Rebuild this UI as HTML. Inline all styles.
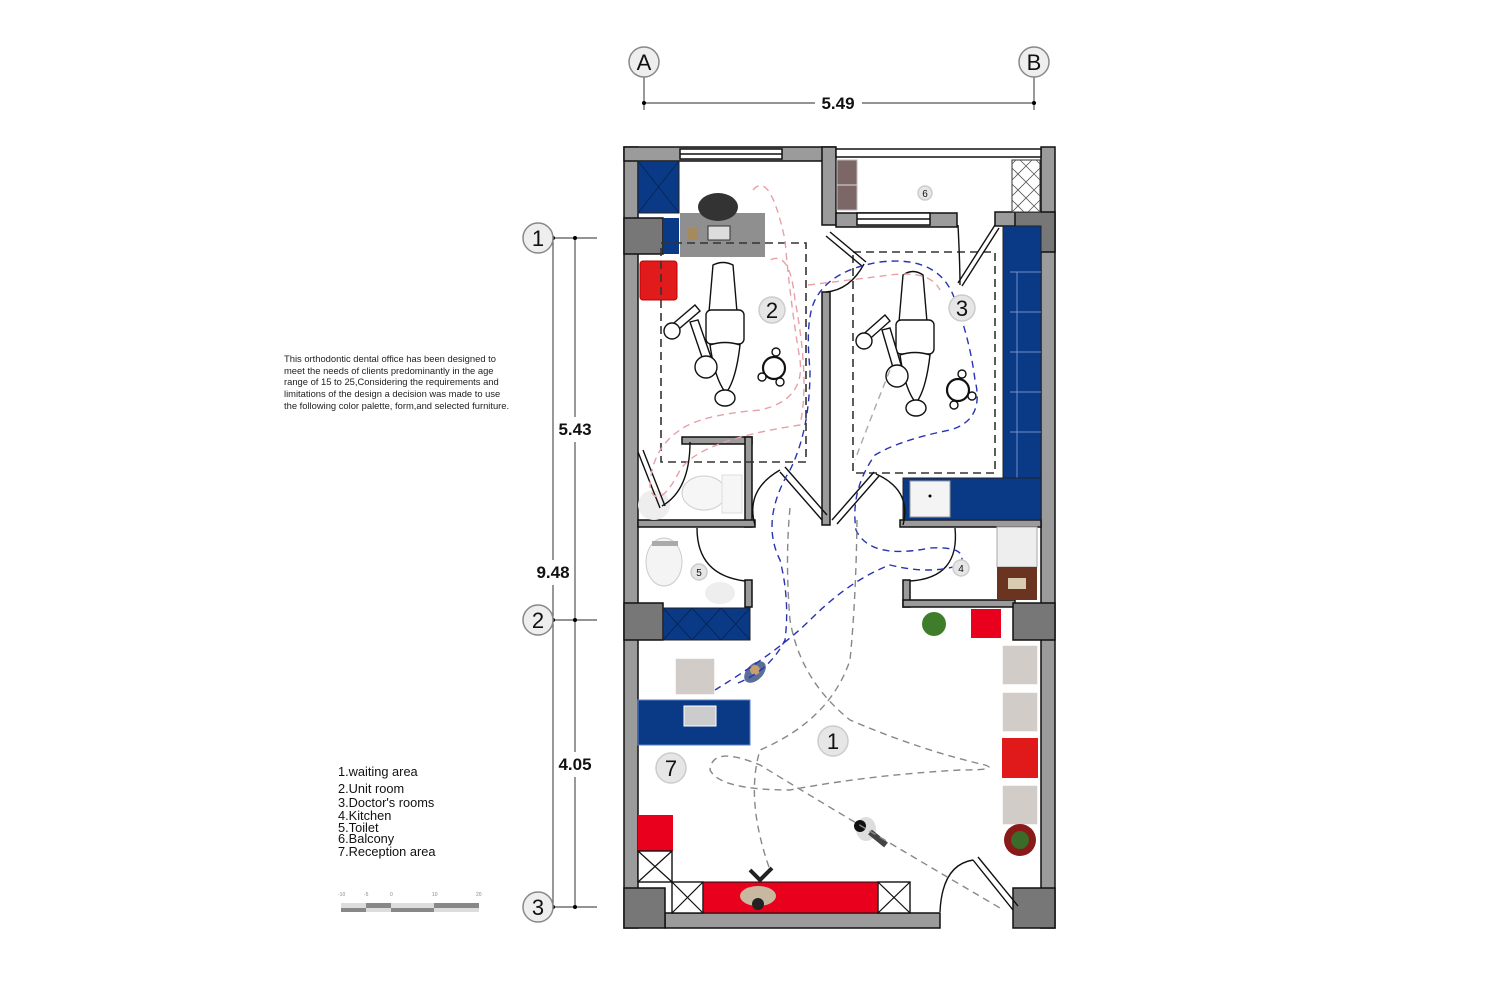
<!DOCTYPE html>
<html><head><meta charset="utf-8"><style>
html,body{margin:0;padding:0;background:#fff;}
svg{display:block;font-family:"Liberation Sans",Arial,sans-serif;}
</style></head><body>
<svg width="1500" height="1000" viewBox="0 0 1500 1000" xmlns="http://www.w3.org/2000/svg">
<rect width="1500" height="1000" fill="#fff"/>
<g stroke="#555" stroke-width="1.2" fill="none">
<line x1="644" y1="77" x2="644" y2="110"/><line x1="1034" y1="77" x2="1034" y2="110"/>
<line x1="644" y1="103" x2="815" y2="103"/><line x1="862" y1="103" x2="1034" y2="103"/>
<line x1="553" y1="238" x2="597" y2="238"/><line x1="553" y1="620" x2="597" y2="620"/><line x1="553" y1="907" x2="597" y2="907"/>
<line x1="553" y1="238" x2="553" y2="560"/><line x1="553" y1="585" x2="553" y2="907"/>
<line x1="575" y1="238" x2="575" y2="417"/><line x1="575" y1="442" x2="575" y2="752"/><line x1="575" y1="777" x2="575" y2="907"/>
</g>
<g fill="#000"><circle cx="644" cy="103" r="2"/><circle cx="1034" cy="103" r="2"/>
<circle cx="553" cy="238" r="2"/><circle cx="575" cy="238" r="2"/><circle cx="553" cy="620" r="2"/><circle cx="575" cy="620" r="2"/><circle cx="553" cy="907" r="2"/><circle cx="575" cy="907" r="2"/></g>
<g fill="#eee" stroke="#888" stroke-width="1.5">
<circle cx="644" cy="62" r="15"/><circle cx="1034" cy="62" r="15"/>
<circle cx="538" cy="238" r="15"/><circle cx="538" cy="620" r="15"/><circle cx="538" cy="907" r="15"/></g>
<g font-size="22" text-anchor="middle" fill="#111">
<text x="644" y="70">A</text><text x="1034" y="70">B</text>
<text x="538" y="246">1</text><text x="538" y="628">2</text><text x="538" y="915">3</text></g>
<g font-size="17" text-anchor="middle" fill="#111" font-weight="bold">
<text x="838" y="109">5.49</text><text x="575" y="435">5.43</text><text x="553" y="578">9.48</text><text x="575" y="770">4.05</text></g>
<g font-size="9.4" fill="#222">
<text x="284" y="362">This orthodontic dental office has been designed to</text>
<text x="284" y="374">meet the needs of clients predominantly  in the age</text>
<text x="284" y="385">range of 15 to 25,Considering the requirements and</text>
<text x="284" y="397">limitations of the design a decision was made to use</text>
<text x="284" y="409">the following color palette, form,and selected furniture.</text></g>
<g font-size="12.8" fill="#111">
<text x="338" y="776">1.waiting area</text><text x="338" y="793">2.Unit room</text><text x="338" y="807">3.Doctor's rooms</text>
<text x="338" y="820">4.Kitchen</text><text x="338" y="832">5.Toilet</text><text x="338" y="843">6.Balcony</text><text x="338" y="856">7.Reception area</text></g>
<g font-size="5" fill="#888"><text x="338" y="896">-10</text><text x="364" y="896">-5</text><text x="390" y="896">0</text><text x="432" y="896">10</text><text x="476" y="896">20</text></g>
<g fill="#888"><rect x="341" y="903" width="25" height="5" fill="#ddd"/><rect x="366" y="903" width="25" height="5"/><rect x="391" y="903" width="43" height="5" fill="#ddd"/><rect x="434" y="903" width="45" height="5"/>
<rect x="341" y="908" width="25" height="4"/><rect x="366" y="908" width="25" height="4" fill="#ddd"/><rect x="391" y="908" width="43" height="4"/><rect x="434" y="908" width="45" height="4" fill="#ddd"/></g>

<rect x="624" y="147" width="431" height="781" fill="#fff"/>
<g fill="#9b9b9b" stroke="#111" stroke-width="1.5">
<rect x="624" y="147" width="14" height="781"/>
<rect x="1041" y="147" width="14" height="781"/>
<rect x="624" y="147" width="211" height="14"/>
<rect x="822" y="147" width="14" height="78"/>
<rect x="836" y="213" width="121" height="14"/>
<rect x="995" y="212" width="46" height="14"/>
<rect x="822" y="292" width="8" height="233"/>
<rect x="682" y="437" width="70" height="7"/>
<rect x="745" y="437" width="7" height="90"/>
<rect x="638" y="520" width="117" height="7"/>
<rect x="745" y="580" width="7" height="27"/>
<rect x="900" y="520" width="141" height="7"/>
<rect x="903" y="580" width="7" height="27"/>
<rect x="903" y="600" width="112" height="7"/>
<rect x="665" y="913" width="275" height="15"/>
</g>
<g fill="#fff" stroke="#111" stroke-width="1.5">
<rect x="680" y="149" width="102" height="10"/><line x1="680" y1="154" x2="782" y2="154"/>
<rect x="836" y="149" width="205" height="8"/>
<rect x="857" y="213" width="73" height="12"/><line x1="857" y1="219" x2="930" y2="219"/>
</g>
<g fill="#777" stroke="#111" stroke-width="1.5">
<rect x="624" y="218" width="39" height="36"/>
<rect x="1015" y="212" width="40" height="40"/>
<rect x="624" y="603" width="39" height="37"/>
<rect x="1013" y="603" width="42" height="37"/>
<rect x="624" y="888" width="41" height="40"/>
<rect x="1013" y="888" width="42" height="40"/>
</g>
<rect x="837" y="160" width="20" height="50" fill="#7d6766" stroke="#bbb"/>
<line x1="837" y1="185" x2="857" y2="185" stroke="#ddd"/>
<rect x="1012" y="160" width="28" height="52" fill="#fff" stroke="#333"/>
<path d="M1012 168 L1040 196 M1012 184 L1040 212 M1012 200 L1024 212 M1020 160 L1040 180 M1036 160 L1040 164 M1040 168 L1012 196 M1040 184 L1012 212 M1040 200 L1028 212 M1032 160 L1012 180 M1016 160 L1012 164" stroke="#555" stroke-width="0.8"/>
<rect x="638" y="161" width="41" height="52" fill="#0a3a86" stroke="#222"/>
<path d="M638 161 L679 213 M679 161 L638 213" stroke="#07265a"/>
<rect x="663" y="218" width="16" height="36" fill="#0a3a86"/>
<rect x="680" y="213" width="85" height="44" fill="#8f8f8f"/>
<ellipse cx="718" cy="207" rx="20" ry="14" fill="#333"/>
<rect x="708" y="226" width="22" height="14" fill="#ddd" stroke="#333"/>
<rect x="688" y="228" width="10" height="12" fill="#a58a5e"/>
<rect x="640" y="261" width="37" height="39" rx="3" fill="#e11b1b" stroke="#b00"/>
<rect x="661" y="243" width="145" height="219" fill="none" stroke="#333" stroke-width="1.6" stroke-dasharray="8,5"/>
<g fill="#fff" stroke="#111" stroke-width="1.4">
<path d="M713 265 Q723 260 733 265 L737 312 L709 312 Z"/>
<rect x="706" y="310" width="38" height="34" rx="5"/>
<path d="M710 345 Q725 340 740 345 Q736 380 726 393 Q715 380 710 345Z"/>
<ellipse cx="725" cy="398" rx="10" ry="8"/>
<path d="M668 328 L695 305 L700 311 L673 334Z"/>
<circle cx="672" cy="331" r="8"/>
<path d="M690 322 L698 320 L712 360 L704 363Z"/>
<circle cx="706" cy="367" r="11"/>
<circle cx="774" cy="368" r="11" stroke-width="2.2"/>
<circle cx="776" cy="352" r="4"/><circle cx="780" cy="382" r="4"/><circle cx="762" cy="377" r="4"/>
</g>
<rect x="853" y="252" width="142" height="221" fill="none" stroke="#333" stroke-width="1.6" stroke-dasharray="8,5"/>
<g fill="#fff" stroke="#111" stroke-width="1.4">
<path d="M903 275 Q913 268 923 275 L927 322 L899 322 Z"/>
<rect x="896" y="320" width="38" height="34" rx="5"/>
<path d="M900 355 Q915 350 930 355 Q926 390 916 403 Q905 390 900 355Z"/>
<ellipse cx="916" cy="408" rx="10" ry="8"/>
<path d="M859 338 L885 315 L890 321 L864 344Z"/>
<circle cx="864" cy="341" r="8"/>
<path d="M882 330 L890 328 L902 368 L894 371Z"/>
<circle cx="897" cy="376" r="11"/>
<circle cx="958" cy="390" r="11" stroke-width="2.2"/>
<circle cx="962" cy="374" r="4"/><circle cx="972" cy="396" r="4"/><circle cx="954" cy="405" r="4"/>
</g>
<rect x="1003" y="226" width="38" height="254" fill="#0a3a86" stroke="#222"/>
<g stroke="#6d8fc8" stroke-width="1"><line x1="1010" y1="272" x2="1041" y2="272"/><line x1="1010" y1="312" x2="1041" y2="312"/><line x1="1010" y1="352" x2="1041" y2="352"/><line x1="1010" y1="392" x2="1041" y2="392"/><line x1="1010" y1="432" x2="1041" y2="432"/><line x1="1017" y1="272" x2="1017" y2="520"/></g>
<rect x="903" y="478" width="138" height="42" fill="#0a3a86" stroke="#222"/>
<rect x="910" y="481" width="40" height="36" fill="#f4f4f4" stroke="#999"/>
<circle cx="930" cy="496" r="1.5" fill="#000"/>
<ellipse cx="704" cy="493" rx="22" ry="17" fill="#f6f6f6" stroke="#ccc"/>
<rect x="722" y="475" width="20" height="38" fill="#f6f6f6" stroke="#ddd"/>
<ellipse cx="654" cy="505" rx="16" ry="15" fill="#eee"/>
<ellipse cx="664" cy="562" rx="18" ry="24" fill="#f4f4f4" stroke="#ccc"/>
<rect x="652" y="541" width="26" height="5" fill="#aaa"/>
<ellipse cx="720" cy="593" rx="15" ry="11" fill="#eee"/>
<rect x="997" y="527" width="40" height="40" fill="#eee" stroke="#aaa"/>
<rect x="997" y="567" width="40" height="33" fill="#6b3420"/>
<rect x="1008" y="578" width="18" height="11" fill="#d8cbb0"/>
<g fill="none" stroke="#111" stroke-width="1.4">
<path d="M830 232 L866 262 M826 236 L862 266"/>
<path d="M864 264 Q850 290 826 292"/>
<path d="M995 225 L958 283 M999 228 L962 286"/>
<path d="M958 225 Q960 265 960 285"/>
<path d="M638 452 L660 508 M643 450 L665 506"/>
<path d="M662 506 Q690 490 690 442"/>
<path d="M780 472 L822 520 M785 467 L827 515"/>
<path d="M780 470 Q745 490 755 525"/>
<path d="M874 472 L832 520 M879 476 L837 524"/>
<path d="M876 474 Q912 490 903 525"/>
<path d="M697 528 Q697 575 745 581"/>
<path d="M955 528 Q960 578 910 581"/>
<path d="M940 912 Q942 865 973 860"/>
<path d="M973 860 L1013 910 M978 857 L1018 906"/>
</g>
<rect x="663" y="608" width="87" height="32" fill="#0a3a86" stroke="#222"/>
<path d="M663 608 L692 640 M692 608 L663 640 M692 608 L721 640 M721 608 L692 640 M721 608 L750 640 M750 608 L721 640" stroke="#07265a"/>
<rect x="971" y="609" width="30" height="29" fill="#e8001c"/>
<circle cx="934" cy="624" r="12" fill="#3f7d2a"/>
<g fill="#d2ccc8" stroke="#fff" stroke-width="1.5">
<rect x="1002" y="645" width="36" height="40"/><rect x="1002" y="692" width="36" height="40"/><rect x="1002" y="785" width="36" height="40"/>
<rect x="675" y="658" width="40" height="37"/></g>
<rect x="1002" y="738" width="36" height="40" fill="#e01a1a"/>
<circle cx="1020" cy="840" r="16" fill="#8a1a1a"/>
<circle cx="1020" cy="840" r="9" fill="#3b6b28"/>
<rect x="638" y="700" width="112" height="45" fill="#0a3a86" stroke="#5b7fc0"/>
<rect x="684" y="706" width="32" height="20" fill="#ccc" stroke="#fff"/>
<rect x="638" y="815" width="35" height="36" fill="#e8001c"/>
<g fill="#fff" stroke="#111" stroke-width="1.4">
<rect x="638" y="851" width="34" height="31"/><rect x="672" y="882" width="31" height="31"/><rect x="878" y="882" width="32" height="31"/></g>
<path d="M638 851 L672 882 M672 851 L638 882 M672 882 L703 913 M703 882 L672 913 M878 882 L910 913 M910 882 L878 913" stroke="#111" stroke-width="1.2"/>
<rect x="703" y="882" width="175" height="31" fill="#e8001c" stroke="#111"/>
<ellipse cx="758" cy="896" rx="18" ry="10" fill="#c9b8a0"/><circle cx="758" cy="904" r="6" fill="#222"/>
<path d="M750 870 L760 880 L772 868" stroke="#222" stroke-width="4" fill="none"/>
<ellipse cx="866" cy="829" rx="10" ry="12" fill="#ddd"/><circle cx="860" cy="826" r="6" fill="#111"/>
<path d="M870 832 L886 845" stroke="#444" stroke-width="6"/>
<ellipse cx="755" cy="672" rx="8" ry="13" fill="#5a6e9a" transform="rotate(45 755 672)"/><circle cx="755" cy="670" r="5" fill="#c8a070"/>
<g fill="none" stroke-width="1.4" stroke-dasharray="7,5">
<path stroke="#e8a0a8" d="M753 190 Q770 170 785 240 Q790 300 800 360 Q805 400 760 410 Q700 415 680 430 Q650 450 650 490 Q660 510 680 470 Q700 440 800 425 Q810 380 795 300 Q790 250 770 260"/>
<path stroke="#e8a0a8" d="M808 285 Q850 280 890 275 Q930 270 940 290"/>
<path stroke="#2833b0" d="M738 683 Q770 670 785 640 Q790 600 780 560 Q760 520 790 470 Q810 430 810 370 Q805 320 815 300 Q830 270 880 262 Q940 255 955 300 Q970 340 975 380 Q985 420 950 430 Q900 440 875 455 Q850 490 856 530 Q870 560 930 548 Q970 546 960 565 Q930 575 890 565 Q850 580 810 620 Q780 650 715 690"/>
<path stroke="#888" d="M790 508 Q785 560 790 620 Q800 680 850 720 Q920 750 985 765 Q1000 770 960 770 Q870 775 790 790 Q720 790 710 770 Q712 745 760 765 Q850 820 1000 908"/>
<path stroke="#888" d="M857 520 Q856 600 850 660 Q830 720 760 750 Q745 800 770 870"/>
<path stroke="#aaa" d="M890 370 Q870 420 855 460"/>
</g>
<g fill="#e6e6e6" stroke="#ccc" stroke-width="1.5">
<circle cx="772" cy="310" r="13"/><circle cx="962" cy="308" r="13"/><circle cx="833" cy="741" r="15"/><circle cx="671" cy="768" r="15"/>
<circle cx="925" cy="193" r="7"/><circle cx="699" cy="572" r="8"/><circle cx="961" cy="568" r="8"/></g>
<g text-anchor="middle" fill="#111" font-size="22">
<text x="772" y="318">2</text><text x="962" y="316">3</text><text x="833" y="749">1</text><text x="671" y="776">7</text></g>
<g text-anchor="middle" fill="#111" font-size="10">
<text x="925" y="197">6</text><text x="699" y="576">5</text><text x="961" y="572">4</text></g>
</svg>
</body></html>
